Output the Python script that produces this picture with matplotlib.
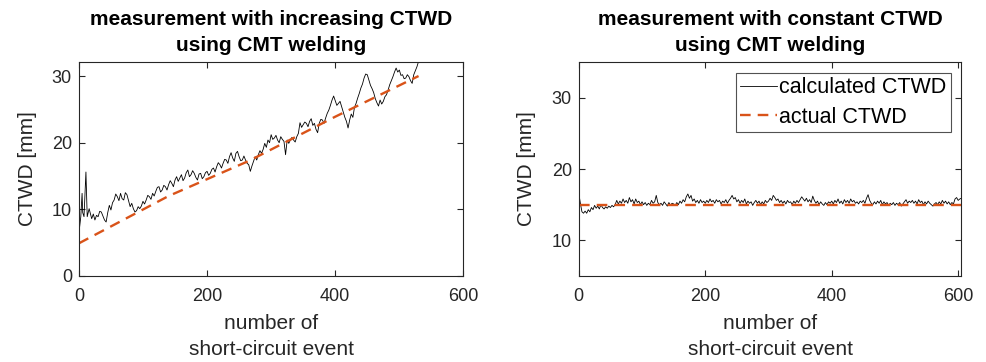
import numpy as np
import matplotlib
matplotlib.use("Agg")
import matplotlib.pyplot as plt

plt.rcParams['font.family'] = ['Liberation Sans', 'DejaVu Sans']

# left panel: increasing CTWD
inc_x_start = [0, 2, 3, 5, 6, 8, 11, 13, 16]
inc_calc_start = [6.4, 8.0, 8.9, 12.4, 9.5, 8.9, 15.6, 8.9, 10.1]
inc_calc_rest = [
    8.6, 9.3, 8.4, 9.1, 8.9, 9.7, 9.6, 9.0, 8.4, 8.1, 9.5, 10.6, 9.9, 11.0, 11.4, 12.3, 11.9, 11.3, 12.4, 11.6,
    11.4, 12.5, 12.2, 11.3, 10.4, 10.9, 10.1, 9.6, 9.8, 10.4, 10.1, 10.5, 11.2, 10.8, 11.4, 12.1, 11.9, 11.5, 12.4, 12.0,
    12.7, 13.3, 13.4, 12.6, 12.9, 13.6, 13.4, 12.9, 13.7, 14.3, 13.9, 13.4, 14.4, 14.9, 14.2, 14.7, 15.2, 14.3, 14.7, 15.5,
    15.9, 14.9, 15.2, 15.8, 15.4, 14.8, 14.4, 15.3, 15.4, 14.6, 14.9, 15.5, 15.7, 15.1, 15.4, 16.0, 16.2, 15.6, 16.4, 17.0,
    16.7, 16.2, 16.9, 17.5, 17.4, 16.9, 17.9, 18.5, 17.7, 17.2, 18.4, 18.7, 17.9, 17.3, 17.4, 18.0, 17.4, 16.9, 16.7, 15.7,
    16.5, 17.2, 17.9, 17.4, 18.2, 18.8, 18.4, 19.0, 19.9, 19.3, 20.4, 20.0, 21.2, 20.5, 20.7, 21.1, 20.4, 20.0, 20.9, 20.5,
    20.2, 18.2, 20.4, 19.9, 20.4, 20.8, 20.4, 20.1, 20.9, 21.4, 23.0, 22.3, 22.7, 23.1, 22.9, 22.4, 23.2, 23.6, 22.6, 22.9,
    22.0, 21.5, 22.9, 23.5, 23.4, 22.9, 23.7, 24.4, 24.9, 25.6, 26.4, 27.0, 26.3, 25.6, 25.9, 26.2, 25.4, 24.6, 23.8, 23.2,
    22.2, 23.4, 24.3, 23.8, 25.3, 25.9, 26.7, 27.4, 28.2, 28.8, 29.7, 30.3, 30.2, 29.4, 28.6, 28.1, 27.5, 26.6, 26.0, 25.5,
    26.4, 25.8, 26.2, 26.9, 27.2, 27.9, 28.7, 29.3, 29.9, 30.6, 31.2, 30.6, 30.9, 30.1, 30.2, 29.6, 29.7, 30.2, 29.9, 29.3,
    28.9, 30.2, 30.8, 31.4, 32.2]
inc_x = inc_x_start + list(np.arange(20, 530.1, 2.5))
inc_calc = inc_calc_start + inc_calc_rest
inc_act_x = [0, 140, 266, 400, 530]
inc_act = [4.9, 12.0, 17.3, 23.9, 30.0]

# right panel: constant CTWD
const_x = np.arange(0, 605.1, 2.5)
const_calc = [
    16.6, 15.2, 14.0, 13.8, 14.1, 13.8, 14.3, 14.0, 14.6, 14.3, 14.9, 14.5, 14.8, 14.4, 15.0, 14.6, 14.4, 14.7, 14.5, 14.8,
    14.6, 14.9, 14.7, 15.0, 15.6, 15.1, 15.5, 15.2, 15.8, 15.3, 15.6, 15.2, 16.0, 15.4, 15.7, 15.1, 15.8, 15.3, 15.5, 15.0,
    15.4, 15.0, 15.3, 14.9, 15.2, 15.0, 15.6, 15.2, 15.4, 16.3, 15.3, 15.0, 15.2, 14.9, 15.4, 15.1, 14.8, 15.3, 14.9, 15.2,
    15.1, 14.9, 15.3, 15.0, 15.5, 15.2, 15.7, 15.4, 16.1, 16.5, 15.9, 16.3, 15.5, 15.8, 15.3, 15.6, 15.2, 15.7, 15.3, 15.5,
    15.2, 15.6, 15.3, 15.8, 15.4, 15.6, 15.2, 15.7, 15.4, 15.6, 15.1, 15.5, 15.3, 15.7, 15.2, 15.6, 15.9, 16.3, 15.8, 16.0,
    15.4, 15.7, 15.2, 15.6, 15.3, 15.8, 15.1, 15.5, 15.2, 15.4, 14.9, 15.3, 15.6, 15.2, 15.5, 15.0, 15.4, 15.1, 15.6, 15.3,
    15.5, 15.9, 15.6, 16.3, 16.0, 15.6, 15.8, 15.3, 15.6, 15.2, 15.5, 15.1, 15.6, 15.3, 15.4, 15.0, 15.5, 15.2, 15.6, 15.3,
    15.7, 16.1, 15.8, 15.5, 15.9, 15.4, 15.7, 15.3, 16.2, 15.6, 15.2, 15.5, 15.0, 15.4, 15.1, 14.9, 15.3, 15.0, 15.4, 15.2,
    15.5, 15.1, 15.6, 15.3, 15.8, 15.2, 15.5, 15.1, 15.7, 15.3, 15.6, 15.2, 15.8, 15.4, 15.6, 15.2, 15.4, 15.1, 15.5, 15.3,
    15.6, 15.2, 15.9, 16.4, 15.6, 15.2, 15.0, 15.4, 15.1, 15.5, 15.2, 15.6, 15.0, 15.4, 15.1, 15.3, 14.9, 15.2, 15.0, 15.3,
    14.9, 15.2, 15.0, 15.3, 14.8, 15.1, 15.4, 15.7, 15.2, 15.5, 15.3, 15.6, 15.2, 15.5, 15.1, 15.7, 15.3, 15.5, 15.0, 15.4,
    15.1, 15.5, 15.2, 15.0, 14.8, 15.1, 15.3, 15.0, 15.4, 15.1, 15.6, 15.2, 15.5, 15.1, 15.4, 15.0, 15.3, 15.1, 15.8, 16.0,
    15.6, 15.8, 15.9]
const_act_x = [0, 605]
const_act = [15.0, 15.0]

grey = '#262626'
orange = '#D95319'

fig = plt.figure(figsize=(9.86, 3.62), dpi=100)
ax1 = fig.add_axes([0.080, 0.2376, 0.390, 0.591])
ax2 = fig.add_axes([0.587, 0.2376, 0.388, 0.591])

ax1.plot(inc_x, inc_calc, color='black', lw=0.6, label='calculated CTWD')
ax1.plot(inc_act_x, inc_act, color=orange, lw=1.7, linestyle=(0, (4.5, 3)), label='actual CTWD')
ax1.set_xlim(0, 600)
ax1.set_ylim(0, 32.1)
ax1.set_xticks([0, 200, 400, 600])
ax1.set_yticks([0, 10, 20, 30])
ax1.set_title('measurement with increasing CTWD\nusing CMT welding', fontsize=15,
              fontweight='bold', pad=8, linespacing=1.45)

ax2.plot(const_x, const_calc, color='black', lw=0.6, label='calculated CTWD')
ax2.plot(const_act_x, const_act, color=orange, lw=1.7, linestyle=(0, (4.5, 3)), label='actual CTWD')
ax2.set_xlim(0, 605)
ax2.set_ylim(5, 35)
ax2.set_xticks([0, 200, 400, 600])
ax2.set_yticks([10, 20, 30])
ax2.set_title('measurement with constant CTWD\nusing CMT welding', fontsize=15,
              fontweight='bold', pad=8, linespacing=1.45)
leg = ax2.legend(loc='upper right', fontsize=15.5, frameon=True, fancybox=False,
                 edgecolor=grey, handlelength=1.7, handletextpad=0.1,
                 borderpad=0.2, labelspacing=0.4, borderaxespad=0.5)
leg.get_frame().set_linewidth(0.8)

for ax in (ax1, ax2):
    ax.set_xlabel('number of\nshort-circuit event', fontsize=15, color=grey,
                  linespacing=1.45, labelpad=6)
    ax.set_ylabel('CTWD [mm]', fontsize=15, color=grey, labelpad=11)
    ax.tick_params(direction='in', top=True, right=True, length=4, width=0.8,
                   labelsize=13, colors=grey, pad=5)
    ax.tick_params(axis='x', pad=9)
    for s in ax.spines.values():
        s.set_color(grey)
        s.set_linewidth(0.8)

fig.savefig('out.png', dpi=100)
